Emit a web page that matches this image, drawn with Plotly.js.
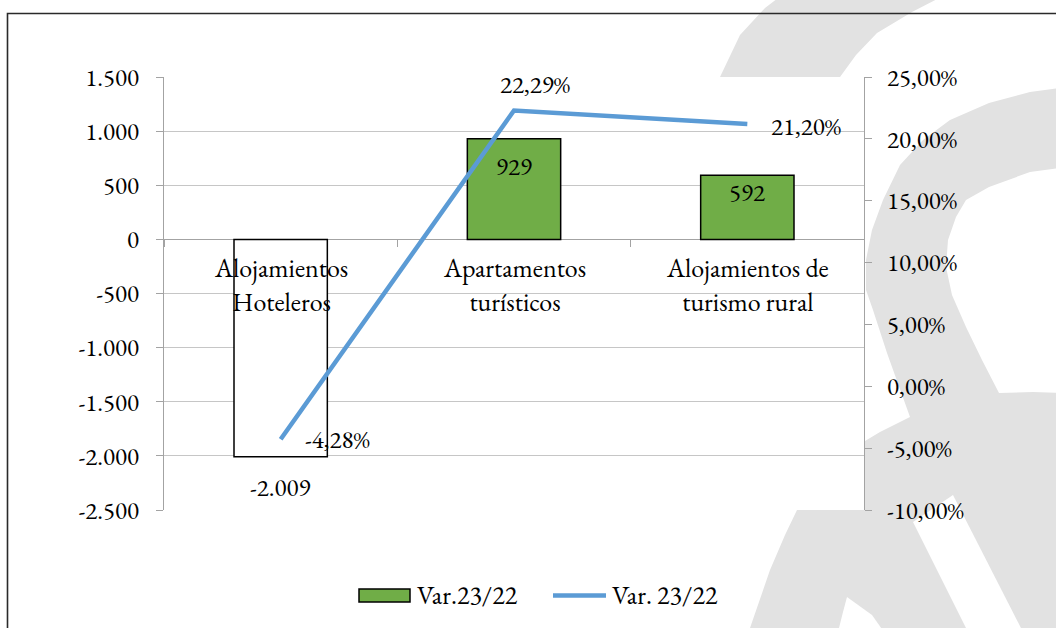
<!DOCTYPE html>
<html>
<head>
<meta charset="utf-8">
<script src="https://cdn.plot.ly/plotly-3.0.1.min.js"></script>
<style>
  html, body { margin: 0; padding: 0; background: #ffffff; }
  #wrap { position: relative; width: 1056px; height: 628px; }
  #bg { position: absolute; left: 0; top: 0; z-index: 0; }
  #chart { position: absolute; left: 0; top: 0; width: 1056px; height: 628px; z-index: 1; }
  #chart text { font-variant-numeric: lining-nums !important; font-feature-settings: "lnum" 1 !important; }
</style>
</head>
<body>
<div id="wrap">
<svg id="bg" width="1056" height="628" xmlns="http://www.w3.org/2000/svg"></svg>
<div id="chart"></div>
</div>
<script>
// ---------------- DATA ----------------
const categories = ['Alojamientos Hoteleros', 'Apartamentos turísticos', 'Alojamientos de turismo rural'];
const categoryLines = [['Alojamientos', 'Hoteleros'], ['Apartamentos', 'turísticos'], ['Alojamientos de', 'turismo rural']];
const varAbs = [-2009, 929, 592];          // Var.23/22 (bars, left axis)
const varPct = [-4.28, 22.29, 21.20];      // Var. 23/22 (line, right axis, %)
const leftTicks = [-2500, -2000, -1500, -1000, -500, 0, 500, 1000, 1500];
const rightTicks = [-10, -5, 0, 5, 10, 15, 20, 25];
const seriesNames = ['Var.23/22', 'Var. 23/22'];

// ---------------- FORMATTERS ----------------
function fmtInt(v) {
  const s = Math.abs(Math.round(v)).toString().replace(/\B(?=(\d{3})+(?!\d))/g, '.');
  return (v < 0 ? '-' : '') + s;
}
function fmtPct(v) {
  return (v < 0 ? '-' : '') + Math.abs(v).toFixed(2).replace('.', ',') + '%';
}

// ---------------- STYLE ----------------
const FONT = 'EB Garamond';
const FS = 25;
const GREEN = '#70ad47';
const BLUE = '#5b9bd5';
const GRID = '#c6c6c6';
const AXIS = '#a3a3a3';
const WM = '#e2e2e2';
const L = 164, R = 864, T = 77, B = 510, W = 1056, H = 628;
function pxX(x) { return (x - L) / (R - L); }
function pxY(y) { return (B - y) / (B - T); }
const txt = (size) => ({ family: FONT, size: size || FS, color: '#000000' });

// ---------------- BACKGROUND WATERMARK (decorative) ----------------
const wm1 = [[782,-5],[945,-5],[912,12],[877,33],[856,55],[840,77],[820,140],[700,140],[712,100],[720,77],[740,35],[765,8]];
const wm2 = [[1060,88],[1030,92],[989,103],[950,120],[923,140],[900,165],[883,200],[872,230],[866,260],[866,290],[873,310],[887,353],[910,417],[880,432],[850,450],[820,480],[797,510],[785,535],[770,570],[750,628],[745,640],[1060,640]];
const hole1 = [[1060,168],[1030,172],[989,187],[966,200],[956,217],[948,240],[946,267],[952,295],[966,327],[982,360],[999,393],[1033,392],[1060,393]];
const hole2 = [[847,597],[843,612],[838,632],[884,632],[872,615]];
const hole3 = [[913,522],[953,495],[1023,632],[968,632]];
(function drawBg() {
  const svg = document.getElementById('bg');
  const ns = 'http://www.w3.org/2000/svg';
  function poly(pts, fill) {
    const p = document.createElementNS(ns, 'polygon');
    p.setAttribute('points', pts.map(q => q[0] + ',' + q[1]).join(' '));
    p.setAttribute('fill', fill);
    svg.appendChild(p);
  }
  poly(wm1, WM); poly(wm2, WM);
  poly(hole1, '#fff'); poly(hole2, '#fff'); poly(hole3, '#fff');
  const border = document.createElementNS(ns, 'path');
  border.setAttribute('d', 'M7.5,640 V13.5 H1070');
  border.setAttribute('fill', 'none');
  border.setAttribute('stroke', '#2a2a2a');
  border.setAttribute('stroke-width', '1.6');
  svg.appendChild(border);
})();

// ---------------- SHAPES (legend symbols) ----------------
const shapes = [
  {type:'rect', xref:'paper', yref:'paper', layer:'above', x0:pxX(359), x1:pxX(410), y0:pxY(589), y1:pxY(602), fillcolor:GREEN, line:{color:'#000000', width:1.5}},
  {type:'line', xref:'paper', yref:'paper', layer:'above', x0:pxX(553), x1:pxX(606), y0:pxY(595.5), y1:pxY(595.5), line:{color:BLUE, width:4.5}}
];

// ---------------- TRACES ----------------
const barTrace = {
  type: 'bar',
  name: seriesNames[0],
  x: categories,
  y: varAbs,
  xaxis: 'x', yaxis: 'y',
  width: 0.4,
  marker: { color: varAbs.map(v => v < 0 ? '#ffffff' : GREEN), line: { color: '#000000', width: 1.5 } },
  showlegend: false,
  hoverinfo: 'skip'
};
const lineTrace = {
  type: 'scatter',
  mode: 'lines',
  name: seriesNames[1],
  x: categories,
  y: varPct,
  xaxis: 'x', yaxis: 'y2',
  line: { color: BLUE, width: 4.5 },
  showlegend: false,
  hoverinfo: 'skip'
};

// ---------------- ANNOTATIONS ----------------
const annotations = [];
// category labels (drawn under the horizontal axis, which crosses at 0)
categoryLines.forEach((lines, i) => {
  annotations.push({ x: categories[i], y: 0, xref: 'x', yref: 'y', text: lines.join('<br>'), showarrow: false,
    xanchor: 'center', yanchor: 'middle', yshift: -46, font: txt(26) });
});
// bar data labels
const barLabelShift = [-30, -27, -17];
varAbs.forEach((v, i) => {
  annotations.push({ x: categories[i], y: v, xref: 'x', yref: 'y', text: fmtInt(v), showarrow: false,
    xanchor: 'center', yanchor: 'middle', yshift: barLabelShift[i], font: txt() });
});
// line data labels
const pctLabelPos = [ {xanchor:'left', xs:22, ys:0}, {xanchor:'center', xs:21, ys:27}, {xanchor:'left', xs:22, ys:-2} ];
varPct.forEach((v, i) => {
  const p = pctLabelPos[i];
  annotations.push({ x: categories[i], y: v, xref: 'x', yref: 'y2', text: fmtPct(v), showarrow: false,
    xanchor: p.xanchor, yanchor: 'middle', xshift: p.xs, yshift: p.ys, font: txt() });
});
// legend texts
annotations.push({ xref:'paper', yref:'paper', x: pxX(415), y: pxY(595), xanchor:'left', yanchor:'middle', text: seriesNames[0], showarrow:false, font: txt(26) });
annotations.push({ xref:'paper', yref:'paper', x: pxX(610), y: pxY(595), xanchor:'left', yanchor:'middle', text: seriesNames[1], showarrow:false, font: txt(26) });

// ---------------- LAYOUT ----------------
const yMin = leftTicks[0], yMax = leftTicks[leftTicks.length - 1];
const layout = {
  width: W, height: H,
  margin: { l: L, r: W - R, t: T, b: H - B, pad: 0 },
  paper_bgcolor: 'rgba(0,0,0,0)',
  plot_bgcolor: '#ffffff',
  font: txt(),
  showlegend: false,
  xaxis: {
    type: 'category',
    range: [-0.5, categories.length - 0.5],
    anchor: 'free',
    position: (0 - yMin) / (yMax - yMin),
    layer: 'below traces',
    showline: true, linecolor: AXIS, linewidth: 1,
    ticks: 'outside', tickson: 'boundaries', ticklen: 7, tickcolor: AXIS, tickwidth: 1,
    showticklabels: false,
    showgrid: false, zeroline: false,
    fixedrange: true
  },
  yaxis: {
    range: [yMin, yMax],
    tickmode: 'array', tickvals: leftTicks, ticktext: leftTicks.map(fmtInt),
    showgrid: true, gridcolor: GRID, gridwidth: 1,
    zeroline: false,
    showline: true, linecolor: AXIS, linewidth: 1,
    ticks: 'outside', ticklen: 7, tickcolor: AXIS,
    ticklabelstandoff: 12,
    tickfont: txt(),
    fixedrange: true
  },
  yaxis2: {
    overlaying: 'y', side: 'right', anchor: 'x',
    range: [rightTicks[0], rightTicks[rightTicks.length - 1]],
    tickmode: 'array', tickvals: rightTicks, ticktext: rightTicks.map(fmtPct),
    showgrid: false, zeroline: false,
    showline: true, linecolor: AXIS, linewidth: 1,
    ticks: 'outside', ticklen: 7, tickcolor: AXIS,
    ticklabelstandoff: 10,
    tickfont: txt(),
    fixedrange: true
  },
  shapes: shapes,
  annotations: annotations
};

Plotly.newPlot('chart', [barTrace, lineTrace], layout, { displayModeBar: false, staticPlot: true });
</script>
</body>
</html>
